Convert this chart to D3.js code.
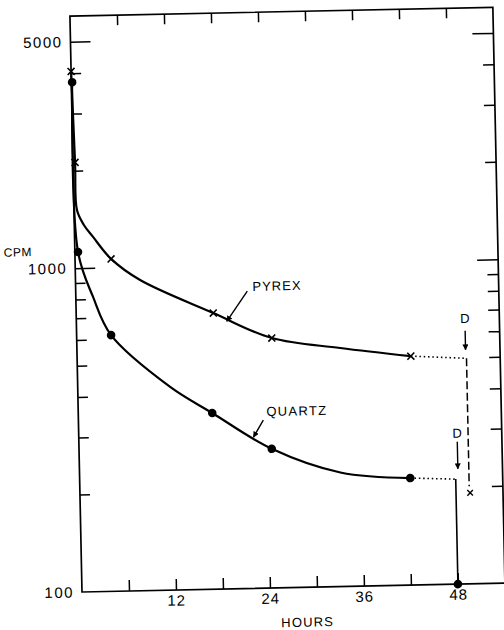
<!DOCTYPE html>
<html>
<head>
<meta charset="utf-8">
<script src="https://cdn.jsdelivr.net/npm/d3@7"></script>
<style>
  html, body { margin: 0; padding: 0; background: #fff; }
  svg { display: block; }
</style>
</head>
<body>
<div id="chart"></div>
<script>
// ---------------- data ----------------
// PYREX (x markers)
const pyrexHours = [0, 0.26, 4.6, 17.5, 24.9, 42.6];
const pyrexCPM   = [4050, 2120, 1062, 712, 591, 509];
// traced smooth curve through PYREX data
const pyrexTraceHours = [0, 0.26, 0.38, 1.2, 2.36, 4.6, 8.25, 17.5, 24.9, 33.6, 42.6];
const pyrexTraceCPM   = [4050, 2120, 1510, 1360, 1245, 1062, 910, 712, 591, 545, 509];
// PYREX dotted continuation, dashed drop and final point
const pyrexTailHours = [42.6, 49.7];
const pyrexTailCPM   = [509, 497];
const pyrexDropHours = [49.7, 49.7];
const pyrexDropCPM   = [497, 200];
const pyrexFinalHours = [49.8];
const pyrexFinalCPM   = [191];

// QUARTZ (filled dots)
const quartzHours = [0.1, 0.4, 4.4, 17.1, 24.6, 42.2, 48];
const quartzCPM   = [3750, 1121, 618, 350, 269, 214, 100];
const quartzTraceHours = [0.1, 0.4, 2.2, 4.4, 11.8, 17.1, 24.6, 33.3, 42.2];
const quartzTraceCPM   = [3750, 1121, 813, 618, 424, 350, 269, 225, 214];
const quartzTailHours = [42.2, 47.9];
const quartzTailCPM   = [214, 211];
const quartzDropHours = [48, 48];
const quartzDropCPM   = [211, 100];

// axes
const xDomain = [0, 54];
const yDomain = [100, 6000];
const xTickValues = [6, 12, 18, 24, 30, 36, 42, 48];
const xTickLabels = [12, 24, 36, 48];
const yLongTicks  = [5000, 1000];
const yShortTicks = [4000, 3000, 2000, 900, 800, 700, 600, 500, 400, 300, 200];
const yTickLabels = [5000, 1000, 100];

// ---------------- drawing ----------------
const W = 504, H = 630;
const FONT = "'Liberation Sans', Arial, Helvetica, sans-serif";

const svg = d3.select('#chart').append('svg')
  .attr('width', W).attr('height', H)
  .attr('viewBox', `0 0 ${W} ${H}`);

const x = d3.scaleLinear().domain(xDomain).range([82, 505]);
const y = d3.scaleLog().domain(yDomain).range([592, 16]);

// the scanned original is slightly rotated
const g = svg.append('g').attr('transform', 'rotate(-1.2,82,592)');

// defs: arrowhead
svg.append('defs').append('marker')
  .attr('id', 'arrow')
  .attr('viewBox', '0 0 10 10')
  .attr('refX', 9).attr('refY', 5)
  .attr('markerWidth', 6).attr('markerHeight', 6)
  .attr('markerUnits', 'userSpaceOnUse')
  .attr('orient', 'auto')
  .append('path').attr('d', 'M0,0L10,5L0,10Z').attr('fill', '#000');

// frame
g.append('rect')
  .attr('x', x(xDomain[0])).attr('y', y(yDomain[1]))
  .attr('width', x(xDomain[1]) - x(xDomain[0]))
  .attr('height', y(yDomain[0]) - y(yDomain[1]))
  .attr('fill', 'none').attr('stroke', '#000').attr('stroke-width', 1.7);

function styleTicks(sel, w) {
  sel.select('.domain').remove();
  sel.selectAll('.tick line').attr('stroke', '#000').attr('stroke-width', w || 1.5);
}

// left ticks (inward)
g.append('g').attr('transform', `translate(${x(0)},0)`)
  .call(d3.axisLeft(y).tickValues(yLongTicks).tickSizeInner(-20).tickSizeOuter(0).tickFormat(''))
  .call(styleTicks);
g.append('g').attr('transform', `translate(${x(0)},0)`)
  .call(d3.axisLeft(y).tickValues(yShortTicks).tickSizeInner(-10).tickSizeOuter(0).tickFormat(''))
  .call(styleTicks);
// right ticks (inward)
g.append('g').attr('transform', `translate(${x(54)},0)`)
  .call(d3.axisRight(y).tickValues(yLongTicks).tickSizeInner(-21).tickSizeOuter(0).tickFormat(''))
  .call(styleTicks);
g.append('g').attr('transform', `translate(${x(54)},0)`)
  .call(d3.axisRight(y).tickValues(yShortTicks).tickSizeInner(-11).tickSizeOuter(0).tickFormat(''))
  .call(styleTicks);
// top / bottom ticks (inward)
g.append('g').attr('transform', `translate(0,${y(yDomain[1])})`)
  .call(d3.axisTop(x).tickValues(xTickValues).tickSizeInner(-10).tickSizeOuter(0).tickFormat(''))
  .call(styleTicks);
g.append('g').attr('transform', `translate(0,${y(yDomain[0])})`)
  .call(d3.axisBottom(x).tickValues(xTickValues).tickSizeInner(-11).tickSizeOuter(0).tickFormat(''))
  .call(styleTicks);

// tick labels
const yLab = g.append('g').attr('transform', `translate(${x(0)},0)`)
  .call(d3.axisLeft(y).tickValues(yTickLabels).tickSize(0).tickPadding(8).tickFormat(d3.format('d')));
yLab.select('.domain').remove();
yLab.attr('font-family', FONT).attr('font-size', 15);
yLab.selectAll('text').attr('fill', '#000').attr('letter-spacing', 1.5);

const xLab = g.append('g').attr('transform', `translate(0,${y(yDomain[0])})`)
  .call(d3.axisBottom(x).tickValues(xTickLabels).tickSize(0).tickPadding(5).tickFormat(d3.format('d')));
xLab.select('.domain').remove();
xLab.attr('font-family', FONT).attr('font-size', 15);
xLab.selectAll('text').attr('fill', '#000').attr('letter-spacing', 1);

// axis titles
g.append('text').attr('x', 307).attr('y', 628)
  .attr('text-anchor', 'middle').attr('dominant-baseline', 'middle')
  .attr('font-family', FONT).attr('font-size', 13).attr('letter-spacing', 1.2)
  .text('HOURS');
g.append('text').attr('x', 25).attr('y', 252)
  .attr('text-anchor', 'middle').attr('dominant-baseline', 'middle')
  .attr('font-family', FONT).attr('font-size', 12).attr('letter-spacing', 0.5)
  .text('CPM');

// curves
const curveLine = d3.line().x(d => x(d[0])).y(d => y(d[1])).curve(d3.curveCatmullRom.alpha(0.5));
const straight  = d3.line().x(d => x(d[0])).y(d => y(d[1]));
const zip = (a, b) => a.map((v, i) => [v, b[i]]);

g.append('path').datum(zip(pyrexTraceHours, pyrexTraceCPM))
  .attr('d', curveLine).attr('fill', 'none').attr('stroke', '#000').attr('stroke-width', 2.2);
g.append('path').datum(zip(quartzTraceHours, quartzTraceCPM))
  .attr('d', curveLine).attr('fill', 'none').attr('stroke', '#000').attr('stroke-width', 2.2);

// tails
g.append('path').datum(zip(pyrexTailHours, pyrexTailCPM))
  .attr('d', straight).attr('fill', 'none').attr('stroke', '#000')
  .attr('stroke-width', 1.6).attr('stroke-dasharray', '1.5,2.8');
g.append('path').datum(zip(pyrexDropHours, pyrexDropCPM))
  .attr('d', straight).attr('fill', 'none').attr('stroke', '#000')
  .attr('stroke-width', 1.5).attr('stroke-dasharray', '8,3.5');
g.append('path').datum(zip(quartzTailHours, quartzTailCPM))
  .attr('d', straight).attr('fill', 'none').attr('stroke', '#000')
  .attr('stroke-width', 1.6).attr('stroke-dasharray', '1.5,2.8');
g.append('path').datum(zip(quartzDropHours, quartzDropCPM))
  .attr('d', straight).attr('fill', 'none').attr('stroke', '#000').attr('stroke-width', 1.6);

// markers
const xMark = 'M-3.5,-3.5L3.5,3.5M-3.5,3.5L3.5,-3.5';
g.append('g').selectAll('path').data(zip(pyrexHours, pyrexCPM)).join('path')
  .attr('transform', d => `translate(${x(d[0])},${y(d[1])})`)
  .attr('d', xMark).attr('stroke', '#000').attr('stroke-width', 1.6).attr('fill', 'none');
g.append('g').selectAll('path').data(zip(pyrexFinalHours, pyrexFinalCPM)).join('path')
  .attr('transform', d => `translate(${x(d[0])},${y(d[1])})`)
  .attr('d', 'M-2.8,-2.8L2.8,2.8M-2.8,2.8L2.8,-2.8').attr('stroke', '#000').attr('stroke-width', 1.4);
g.append('g').selectAll('circle').data(zip(quartzHours, quartzCPM)).join('circle')
  .attr('cx', d => x(d[0])).attr('cy', d => y(d[1])).attr('r', 4.3).attr('fill', '#000');

// annotations (positions in data units)
function label(t, hx, cpm, size, ls) {
  g.append('text').attr('x', x(hx)).attr('y', y(cpm))
    .attr('text-anchor', 'middle').attr('dominant-baseline', 'middle')
    .attr('font-family', FONT).attr('font-size', size).attr('letter-spacing', ls || 0)
    .text(t);
}
function arrow(h1, c1, h2, c2) {
  g.append('line').attr('x1', x(h1)).attr('y1', y(c1)).attr('x2', x(h2)).attr('y2', y(c2))
    .attr('stroke', '#000').attr('stroke-width', 1.4).attr('marker-end', 'url(#arrow)');
}
label('PYREX', 25.7, 849, 13, 1);
arrow(21.9, 828, 19.2, 670);
label('QUARTZ', 27.9, 348, 13, 1.3);
arrow(23.6, 330, 22.3, 293);
label('D', 49.6, 655, 13, 0);
arrow(49.6, 605, 49.6, 528);
label('D', 48.3, 290, 13, 0);
arrow(48.3, 275, 48.3, 227);
</script>
</body>
</html>
